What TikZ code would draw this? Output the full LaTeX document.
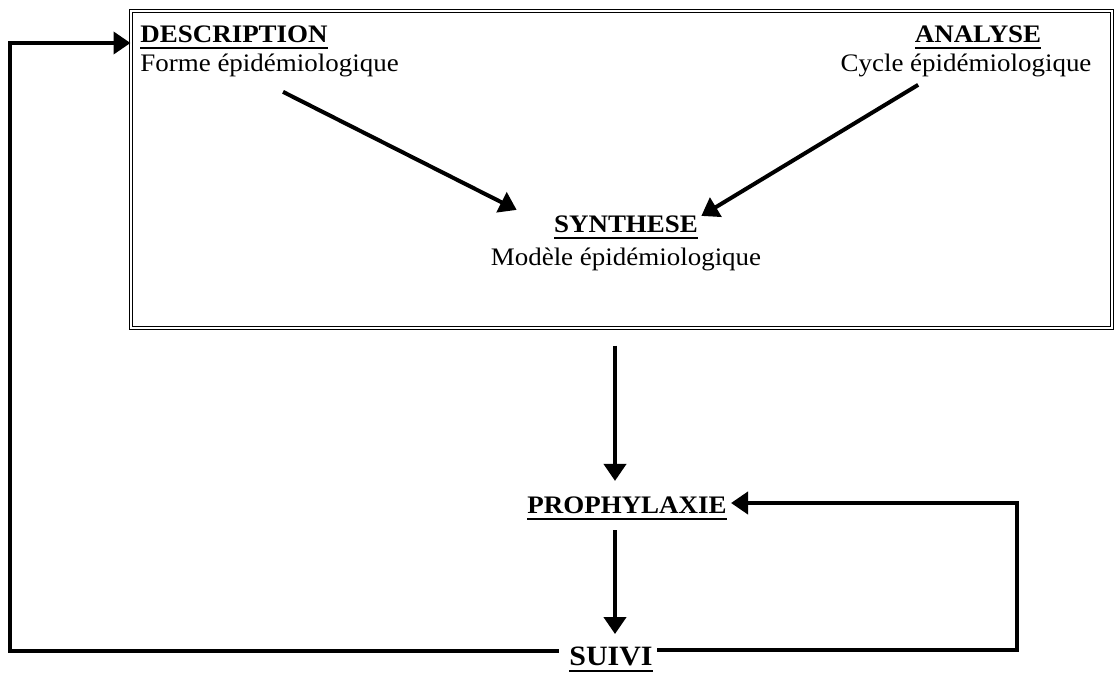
\documentclass[tikz,border=0pt]{standalone}
\usepackage{fontspec}
\setmainfont{Liberation Serif}[FakeStretch=1.07]
\usepackage{tikz}
\usetikzlibrary{arrows.meta,positioning,calc}
\newcommand{\titre}[1]{\setbox0=\hbox{\bfseries #1}\rlap{\rule[-3.4pt]{\wd0}{1.1pt}}\box0}
\tikzstyle{txt} = [inner sep=0pt, anchor=base, font=\fontsize{12.6}{15}\selectfont]
\tikzstyle{boite} = [draw, double, double distance=1.3pt, line width=0.5pt, inner sep=0pt]
\tikzstyle{tedge} = [draw, line width=2pt, -{Triangle[length=8.5pt,width=11pt]}]

\begin{document}
\begin{tikzpicture}[x=0.5pt,y=-0.5pt]
\useasboundingbox (0,0) rectangle (1114,675);

% cadre ======================================
\node[boite, minimum width=490.5pt, minimum height=158.5pt] (cadre) at (621.5,169.5) {};

\node[txt, anchor=base west] (desc) at (140,42) {\titre{DESCRIPTION}};
\node[txt, anchor=base west] (forme) at (140,71) {Forme épidémiologique};
\node[txt] (ana) at (978,42) {\titre{ANALYSE}};
\node[txt] (cycle) at (966,71) {Cycle épidémiologique};
\node[txt] (synt) at (626,232) {\titre{SYNTHESE}};
\node[txt] (modele) at (626,265) {Modèle épidémiologique};

% bas ========================================
\node[txt] (proph) at (627,513) {\titre{PROPHYLAXIE}};
\node[txt, font=\fontsize{14}{16}\selectfont] (suivi) at (611,665) {\titre{SUIVI}};

\coordinate (axe) at (615,0);
\coordinate (hg) at (10,43);
\coordinate (bg) at (10,651);
\coordinate (hd) at (1017,503);
\coordinate (bd) at (1017,650);

% edges
\path[tedge] ($(forme.south west)+(143,15)$) -- ($(synt.north west)+(-37,-5)$);
\path[tedge] ($(cycle.south west)+(78,8)$) -- ($(synt.north east)+(3,1)$);
\path[tedge] ([yshift=-8.5pt]cadre.south -| axe) -- ([yshift=7.5pt]proph.north -| axe);
\path[tedge] ([yshift=-5pt]proph.south -| axe) -- ([yshift=6pt]suivi.north -| axe);
\path[tedge] ([xshift=-5pt]suivi.west |- bg) -- (bg) -- (hg) -- (hg -| cadre.west);
\path[tedge] ([xshift=2pt]suivi.east |- bd) -- (bd) -- (hd) -- ([xshift=2pt]proph.east |- hd);

\end{tikzpicture}
\end{document}
